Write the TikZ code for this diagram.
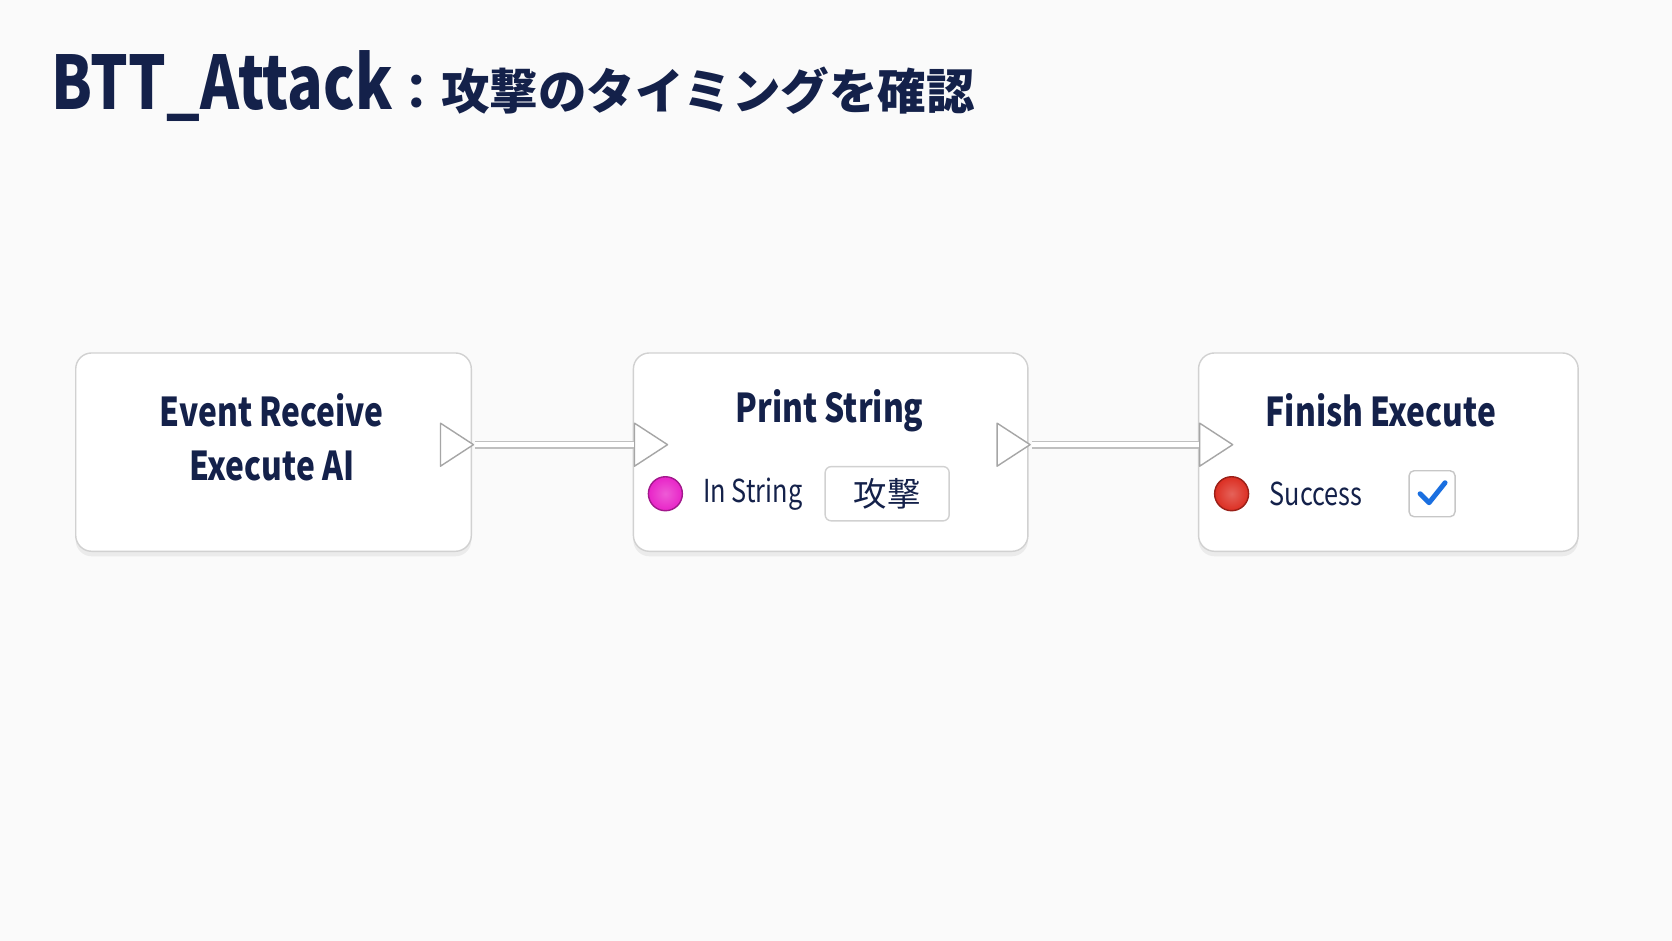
\documentclass[tikz,border=0pt]{standalone}
\usepackage{fontspec}
\setmainfont{Noto Sans CJK JP}
\newfontfamily\narrowfont{Noto Sans CJK JP}[FakeStretch=0.8]
\usetikzlibrary{shapes.geometric,shadows,positioning}
\definecolor{navy}{HTML}{14214A}
\definecolor{pinpink}{HTML}{E824C8}
\definecolor{pinred}{HTML}{DC2E22}
\definecolor{chkblue}{HTML}{1A6FE0}
\tikzset{
    x={(0.10663mm,0mm)},
    y={(0mm,-0.10663mm)},
    bp/.style={
        draw=black!18,
        fill=white,
        rounded corners=1.6mm,
        drop shadow={opacity=0.12,shadow xshift=0mm,shadow yshift=-0.5mm}
    },
    title/.style={text=navy,font=\narrowfont\fontsize{11.3}{15.5}\selectfont\bfseries,align=center},
    pinlbl/.style={text=navy,font=\narrowfont\fontsize{9}{11}\selectfont,anchor=west},
    exec/.style={
        isosceles triangle,
        isosceles triangle stretches,
        minimum width=4.3mm,
        minimum height=3.3mm,
        inner sep=0mm,
        draw=black!35,
        fill=white,
        line join=round
    },
    wire/.style={draw=black!25,line width=0.4pt,double=white,double distance=1.4pt},
    pin/.style={circle,minimum size=3.4mm,inner sep=0pt,draw=#1!70!black,
        inner color=#1!75!white,outer color=#1}
}
\begin{document}
\begin{tikzpicture}
        \fill[black!2] (0,0) rectangle (1568,882);
        \useasboundingbox (0,0) rectangle (1568,882);
        % heading
        \node[anchor=base west,text=navy,inner sep=0pt] (head) at (48,103)
            {{\narrowfont\fontsize{21}{25}\selectfont\bfseries BTT\_Attack}%
             {\fontsize{13.8}{18}\selectfont\bfseries ：攻撃のタイミングを確認}};
        % node boxes
        \draw[bp] (71,331) rectangle (442,517);
        \draw[bp] (594,331) rectangle (964,517);
        \draw[bp] (1124,331) rectangle (1480,517);
        \node[title] (evt) at (255,410) {Event Receive\\Execute AI};
        \node[title] (prt) at (778,385) {Print String};
        \node[title] (fin) at (1295,385) {Finish Execute};
        % exec pins
        \node[exec] (evtout) at (424,417) {};
        \node[exec] (prtin) at (606,417) {};
        \node[exec] (prtout) at (946,417) {};
        \node[exec] (finin) at (1136,417) {};
        \draw[wire] (evtout.apex) -- (prtin.west);
        \draw[wire] (prtout.apex) -- (finin.west);
        % data pins
        \node[pin=pinpink] (strpin) at (624,463) {};
        \node[pinlbl] (strlbl) at (648,463) {In String};
        \node[draw=black!18,fill=white,rounded corners=0.6mm,minimum width=12.4mm,
            minimum height=5mm,text=navy,font=\fontsize{9.5}{12}\selectfont] (strval)
            at (832,463) {攻撃};
        \node[pin=pinred] (okpin) at (1155,463) {};
        \node[pinlbl] (oklbl) at (1179,463) {Success};
        \node[draw=black!22,fill=white,rounded corners=0.5mm,minimum size=4.6mm,
            inner sep=0pt] (okbox) at (1343,463) {};
        \draw[chkblue,line width=1.4pt,line cap=round,line join=round]
            ([xshift=-1.2mm,yshift=0mm]okbox.center) -- ([xshift=-0.3mm,yshift=-0.9mm]okbox.center)
            -- ([xshift=1.3mm,yshift=1.1mm]okbox.center);
\end{tikzpicture}
\end{document}
